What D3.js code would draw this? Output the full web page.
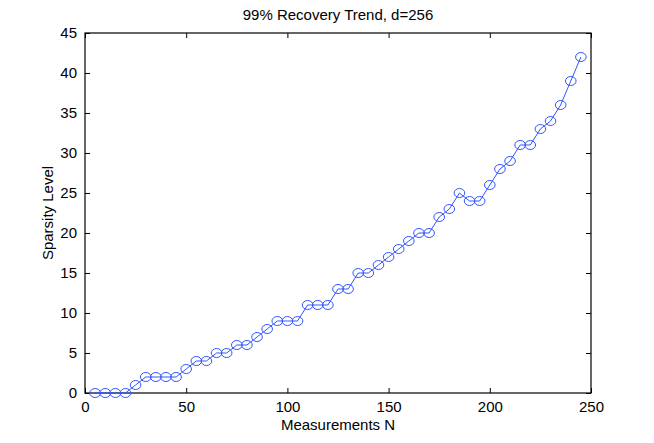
<!DOCTYPE html>
<html><head><meta charset="utf-8">
<script src="https://cdn.jsdelivr.net/npm/d3@7"></script>
<style>body{margin:0;background:#fff;} svg{display:block;} text{font-family:"Liberation Sans",Arial,sans-serif;fill:#000;}</style>
</head><body>
<svg id="c" width="654" height="443"></svg>
<script>
const measurements = [5,10,15,20,25,30,35,40,45,50,55,60,65,70,75,80,85,90,95,100,105,110,115,120,125,130,135,140,145,150,155,160,165,170,175,180,185,190,195,200,205,210,215,220,225,230,235,240,245];
const sparsity = [0,0,0,0,1,2,2,2,2,3,4,4,5,5,6,6,7,8,9,9,9,11,11,11,13,13,15,15,16,17,18,19,20,20,22,23,25,24,24,26,28,29,31,31,33,34,36,39,42];
const xTicks = [0,50,100,150,200,250];
const yTicks = [0,5,10,15,20,25,30,35,40,45];
const titleText = "99% Recovery Trend, d=256";
const xLabel = "Measurements N";
const yLabel = "Sparsity Level";

const svg = d3.select("#c");
const L=85, R=591, T=33, B=393;
const x = d3.scaleLinear().domain([0,250]).range([L,R]);
const y = d3.scaleLinear().domain([0,45]).range([B,T]);
const tl = 5;
const g = svg.append("g");

g.append("g").attr("transform",`translate(0,${B})`)
 .call(d3.axisBottom(x).tickValues(xTicks).tickSizeInner(-tl).tickSizeOuter(0).tickPadding(8))
 .call(a=>{a.select(".domain").remove(); a.selectAll("line").attr("stroke","#000"); a.selectAll("text").attr("font-size",15).attr("font-family","Liberation Sans, Arial, sans-serif");});
g.append("g").attr("transform",`translate(0,${T})`)
 .call(d3.axisTop(x).tickValues(xTicks).tickSizeInner(-tl).tickSizeOuter(0).tickFormat(""))
 .call(a=>{a.select(".domain").remove(); a.selectAll("line").attr("stroke","#000");});
g.append("g").attr("transform",`translate(${L},0)`)
 .call(d3.axisLeft(y).tickValues(yTicks).tickSizeInner(-tl).tickSizeOuter(0).tickPadding(8))
 .call(a=>{a.select(".domain").remove(); a.selectAll("line").attr("stroke","#000"); a.selectAll("text").attr("font-size",15).attr("font-family","Liberation Sans, Arial, sans-serif");});
g.append("g").attr("transform",`translate(${R},0)`)
 .call(d3.axisRight(y).tickValues(yTicks).tickSizeInner(-tl).tickSizeOuter(0).tickFormat(""))
 .call(a=>{a.select(".domain").remove(); a.selectAll("line").attr("stroke","#000");});

g.append("rect").attr("x",L).attr("y",T).attr("width",R-L).attr("height",B-T)
 .attr("fill","none").attr("stroke","#000").attr("stroke-width",1.2);

const data = measurements.map((m,i)=>({m, s:sparsity[i]}));
const blue = "#3355ff";
g.append("path").datum(data)
 .attr("d", d3.line().x(d=>x(d.m)).y(d=>y(d.s)))
 .attr("fill","none").attr("stroke",blue).attr("stroke-width",1);
g.selectAll("ellipse.pt").data(data).join("ellipse").attr("class","pt")
 .attr("cx",d=>x(d.m)).attr("cy",d=>y(d.s)).attr("rx",5.3).attr("ry",4.5)
 .attr("fill","none").attr("stroke",blue).attr("stroke-width",1);

svg.append("text").attr("x",(L+R)/2).attr("y",20).attr("text-anchor","middle").attr("font-size",15).text(titleText);
svg.append("text").attr("x",(L+R)/2).attr("y",430).attr("text-anchor","middle").attr("font-size",15).text(xLabel);
svg.append("text").attr("transform",`translate(53,${(T+B)/2}) rotate(-90)`).attr("text-anchor","middle").attr("font-size",15).text(yLabel);
</script>
</body></html>
